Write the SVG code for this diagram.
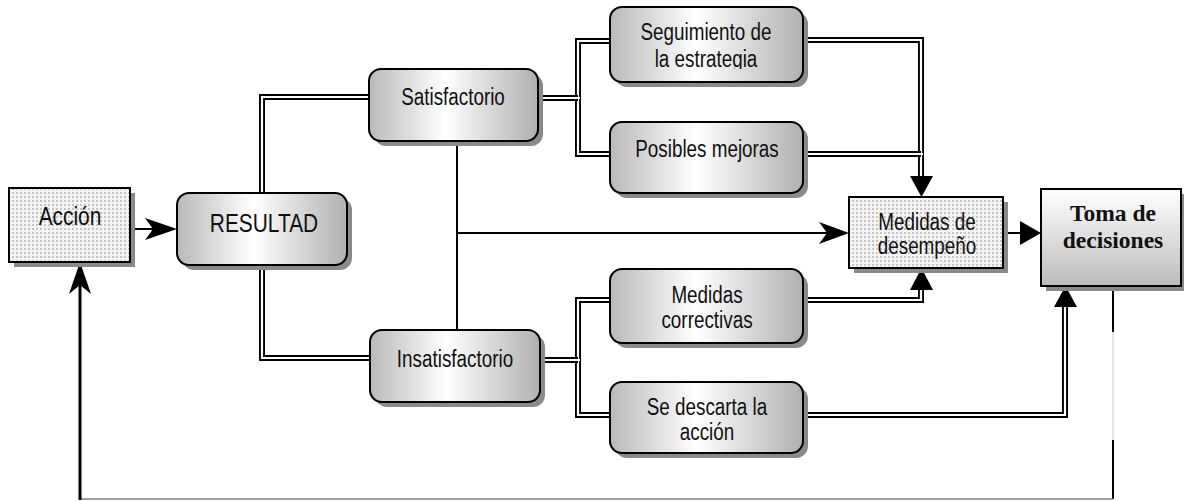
<svg xmlns="http://www.w3.org/2000/svg" width="1184" height="501" viewBox="0 0 1184 501">
<style>
.t{font-family:"Liberation Sans","Arial",sans-serif;font-size:23px;fill:#111;text-anchor:middle}
.big{font-size:25.5px}
.tb{font-family:"Liberation Serif","Times New Roman",serif;font-weight:bold;font-size:23.5px;fill:#111;text-anchor:middle}
.rb{fill:url(#gH);stroke:#000;stroke-width:2}
.sh{fill:#8a8a8a}
.dot{fill:url(#dots);stroke:#000;stroke-width:2}
.o{fill:none;stroke:#000;stroke-width:6}
.i{fill:none;stroke:#fff;stroke-width:2.2}
.s{fill:none;stroke:#000;stroke-width:2}
.ah{fill:#000}
</style>
<defs>
<linearGradient id="gH" x1="0" y1="0" x2="1" y2="0">
<stop offset="0" stop-color="#b9b9b9"/>
<stop offset="0.45" stop-color="#ffffff"/>
<stop offset="1" stop-color="#b0b0b0"/>
</linearGradient>
<linearGradient id="gV" x1="0" y1="0" x2="0" y2="1">
<stop offset="0" stop-color="#ffffff"/>
<stop offset="1" stop-color="#bcbcbc"/>
</linearGradient>
<pattern id="dots" width="4" height="4" patternUnits="userSpaceOnUse">
<rect width="4" height="4" fill="#f4f4f4"/>
<rect x="0" y="0" width="2" height="2" fill="#c4c4c4"/>
</pattern>
<clipPath id="clipSeg"><rect x="600" y="0" width="220" height="69"/></clipPath>
</defs>

<g id="connectors">
<path class="o" d="M262,193 V97 H371"/><path class="i" d="M262,193 V97 H371"/>
<path class="o" d="M262,265 V358 H371"/><path class="i" d="M262,265 V358 H371"/>
<path class="o" d="M610,41 H578 V154 H610"/><path class="i" d="M610,41 H578 V154 H610"/>
<path class="o" d="M538,98 H578"/><path class="i" d="M538,98 H580"/>
<path class="o" d="M610,300 H578 V415 H610"/><path class="i" d="M610,300 H578 V415 H610"/>
<path class="o" d="M540,360 H578"/><path class="i" d="M540,360 H580"/>
<path class="o" d="M803,40 H921 V178"/><path class="i" d="M803,40 H921 V178"/>
<path class="o" d="M803,154 H921"/><path class="i" d="M803,154 H923"/>
<polygon class="ah" points="910,176 933,176 921.5,197"/>
<path class="o" d="M803,300 H921 V288"/><path class="i" d="M803,300 H921 V288"/>
<polygon class="ah" points="910,290 933,290 921.5,268"/>
<path class="o" d="M803,415 H1065 V304"/><path class="i" d="M803,415 H1065 V304"/>
<polygon class="ah" points="1054,307 1077,307 1065.5,286"/>
<path class="s" d="M457,141 V330"/>
<path class="s" d="M457,233 H828"/>
<polygon class="ah" points="849,233 819,222 827,233 819,244"/>
<path class="s" d="M1003,233 H1022"/>
<polygon class="ah" points="1020,221 1041,233 1020,245"/>
<path class="s" d="M130,229 H155"/>
<polygon class="ah" points="177,229 145,218 153,229 145,240"/>
<path class="s" d="M1113,286 V332"/>
<path fill="none" stroke="#dcdcdc" stroke-width="1.5" d="M1113,332 V440"/>
<path class="s" d="M1113,440 V499"/>
<path fill="none" stroke="#808080" stroke-width="1.5" d="M1113,499 H80"/>
<path fill="none" stroke="#000" stroke-width="3" d="M80,500 V282"/>
<polygon class="ah" points="80,262 69,294 80,285 91,294"/>
</g>

<g id="accion">
<rect class="sh" x="14" y="193" width="121" height="74"/>
<rect class="dot" x="9" y="188" width="121" height="74"/>
<text class="t big" transform="matrix(0.82 0 0 1 70 225)">Acción</text>
</g>

<g id="resultad">
<rect class="sh" x="182" y="198" width="170" height="72" rx="12"/>
<rect class="rb" x="177" y="193" width="170" height="72" rx="12"/>
<text class="t big" transform="matrix(0.82 0 0 1 264 232)">RESULTAD</text>
</g>

<g id="satisfactorio">
<rect class="sh" x="374" y="74" width="169" height="72" rx="12"/>
<rect class="rb" x="369" y="69" width="169" height="72" rx="12"/>
<text class="t" transform="matrix(0.82 0 0 1 453 105)">Satisfactorio</text>
</g>

<g id="insatisfactorio">
<rect class="sh" x="375" y="335" width="170" height="72" rx="12"/>
<rect class="rb" x="370" y="330" width="170" height="72" rx="12"/>
<text class="t" transform="matrix(0.82 0 0 1 455 367)">Insatisfactorio</text>
</g>

<g id="seguimiento">
<rect class="sh" x="615" y="12" width="193" height="75" rx="12"/>
<rect class="rb" x="610" y="7" width="193" height="75" rx="12"/>
<text class="t" transform="matrix(0.82 0 0 1 706 40)">Seguimiento de</text>
<g clip-path="url(#clipSeg)"><text class="t" transform="matrix(0.82 0 0 1 706 67)">la estrategia</text></g>
</g>

<g id="mejoras">
<rect class="sh" x="615" y="127" width="193" height="71" rx="12"/>
<rect class="rb" x="610" y="122" width="193" height="71" rx="12"/>
<text class="t" transform="matrix(0.82 0 0 1 707 157)">Posibles mejoras</text>
</g>

<g id="correctivas">
<rect class="sh" x="615" y="274" width="193" height="74" rx="12"/>
<rect class="rb" x="610" y="269" width="193" height="74" rx="12"/>
<text class="t" transform="matrix(0.82 0 0 1 707 303)">Medidas</text>
<text class="t" transform="matrix(0.82 0 0 1 707 328)">correctivas</text>
</g>

<g id="descarta">
<rect class="sh" x="615" y="387" width="193" height="71" rx="12"/>
<rect class="rb" x="610" y="382" width="193" height="71" rx="12"/>
<text class="t" transform="matrix(0.82 0 0 1 707 415)">Se descarta la</text>
<text class="t" transform="matrix(0.82 0 0 1 707 440)">acción</text>
</g>

<g id="desempeno">
<rect class="sh" x="854" y="202" width="154" height="71"/>
<rect class="dot" x="849" y="197" width="154" height="71"/>
<text class="t" transform="matrix(0.82 0 0 1 927 230)">Medidas de</text>
<text class="t" transform="matrix(0.82 0 0 1 927 254)">desempeño</text>
</g>

<g id="toma">
<rect class="sh" x="1046" y="194" width="140" height="97"/>
<rect fill="url(#gV)" stroke="#000" stroke-width="2" x="1041" y="189" width="140" height="97"/>
<text class="tb" x="1113" y="221">Toma de</text>
<text class="tb" x="1113" y="248">decisiones</text>
</g>
</svg>
